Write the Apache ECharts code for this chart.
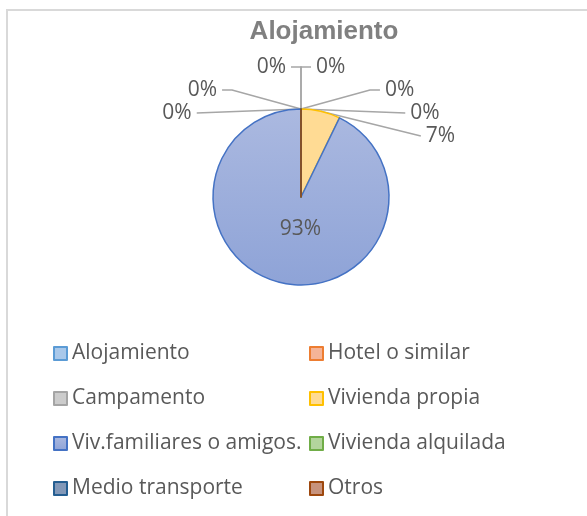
<!DOCTYPE html>
<html>
<head>
<meta charset="utf-8">
<script src="https://cdn.jsdelivr.net/npm/echarts@6/dist/echarts.min.js"></script>
<style>
html,body{margin:0;padding:0;background:#fff;}
#frame{position:absolute;left:6px;top:9px;width:700px;height:600px;border-left:2px solid #d9d9d9;border-top:2px solid #d9d9d9;}
#chart{position:absolute;left:0;top:0;width:587px;height:516px;}
</style>
</head>
<body>
<div id="frame"></div>
<div id="chart"></div>
<script>
var title = 'Alojamiento';
var categories = ['Alojamiento','Hotel o similar','Campamento','Vivienda propia','Viv.familiares o amigos.','Vivienda alquilada','Medio transporte','Otros'];
var values = [0, 0, 0, 7.2, 92.8, 0, 0, 0];
var leftLegend = ['Alojamiento','Campamento','Viv.familiares o amigos.','Medio transporte'];
var rightLegend = ['Hotel o similar','Vivienda propia','Vivienda alquilada','Otros'];

var fills = ['#a9c8ea','#f5b497','#cccccc','#ffdb94','#9eaedc','#b3d59c','#8298b8','#c7937d'];
var borders = ['#5b9bd5','#ed7d31','#a5a5a5','#ffc000','#4472c4','#70ad47','#255e91','#9e480e'];

var data = categories.map(function(c, i){
  var item = {name: c, value: values[i], itemStyle: {color: fills[i], borderColor: borders[i]}};
  if (i === 4) {
    item.itemStyle.color = new echarts.graphic.LinearGradient(0,0,0,1,[{offset:0,color:'#abb9e0'},{offset:1,color:'#8ea3d7'}]);
    item.label = {position: 'inside', offset: [10, -14]};
  }
  return item;
});

var chart = echarts.init(document.getElementById('chart'), null, {renderer:'canvas'});
var legendBase = {
  orient: 'vertical', icon: 'rect', itemWidth: 13, itemHeight: 13, itemGap: 24, height: 220,
  textStyle: {fontFamily: 'Open Sans', fontSize: 21, lineHeight: 21, color: '#595959'},
  selectedMode: false
};
chart.setOption({
  animation: false,
  title: {text: title, left: 319, top: 14, textAlign: 'center',
    textStyle: {fontFamily: 'Liberation Sans', fontSize: 26, fontWeight: 'bold', color: '#808080'}},
  legend: [
    Object.assign({}, legendBase, {left: 48, top: 338, data: leftLegend}),
    Object.assign({}, legendBase, {left: 304, top: 338, data: rightLegend})
  ],
  series: [{
    type: 'pie',
    center: [301, 197],
    radius: 88,
    startAngle: 90,
    clockwise: true,
    avoidLabelOverlap: true,
    itemStyle: {borderWidth: 1.5},
    label: {
      show: true, position: 'outside', fontFamily: 'Open Sans', fontSize: 21, color: '#595959',
      formatter: function(p){ return Math.round(p.percent) + '%'; }
    },
    labelLine: {show: true, length: 42, length2: 10, lineStyle: {color: '#a6a6a6', width: 1.5}},
    data: data
  }]
});
</script>
</body>
</html>
